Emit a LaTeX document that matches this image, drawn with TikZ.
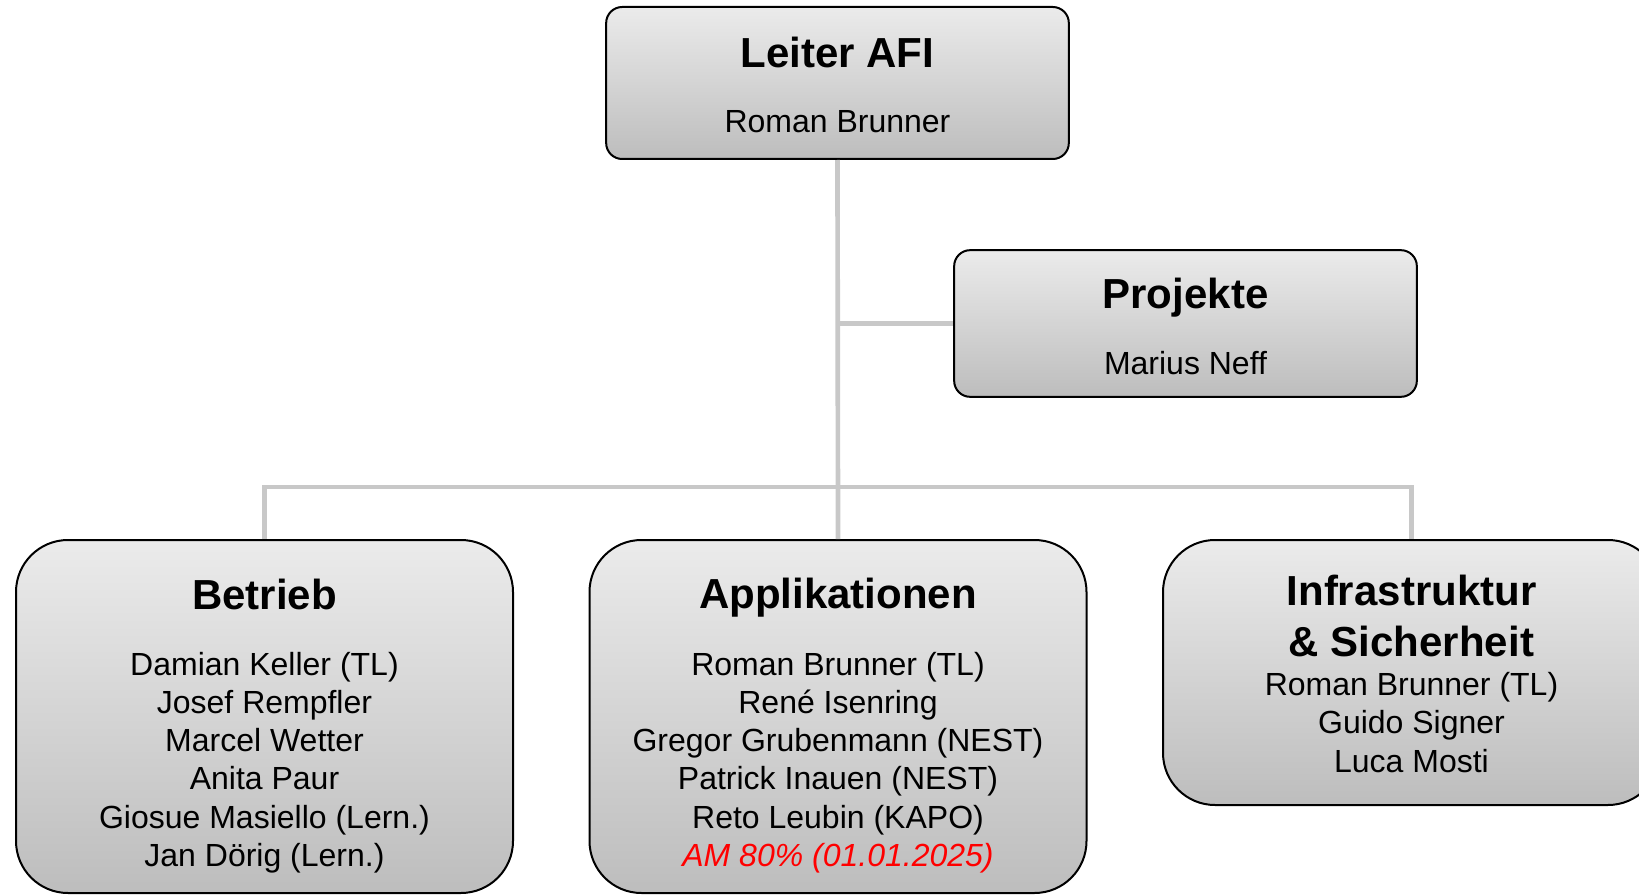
\documentclass[tikz,border=0pt]{standalone}
\usepackage{fontspec}
\setmainfont{Liberation Sans}
\definecolor{boxtop}{HTML}{EBEBEB}
\definecolor{boxbottom}{HTML}{BDBDBD}
\definecolor{linkgray}{HTML}{C8C8C8}
\definecolor{notered}{HTML}{FF0000}
\tikzset{
  unitbox/.style={draw=black, line width=1.5pt, top color=boxtop, bottom color=boxbottom,
    rounded corners=12pt, minimum width=347pt, inner sep=0pt},
  teambox/.style={unitbox, rounded corners=39pt, minimum width=372.75pt},
  headtext/.style={font=\fontsize{31.5}{38.25}\selectfont\bfseries, align=center, inner sep=0pt},
  nametext/.style={font=\fontsize{24}{28.65}\selectfont, align=center, inner sep=0pt},
  link/.style={draw=linkgray, line width=3.5pt},
}
\begin{document}
\begin{tikzpicture}[x=0.75pt, y=-0.75pt]
\useasboundingbox (0,0) rectangle (1639,895);
\clip (0,0) rectangle (1639,895);
% connectors
\coordinate (bus) at (838,487);
\node[unitbox, minimum height=114pt] (leiter) at (837.5,83) {};
\node[unitbox, minimum height=110pt] (projekte) at (1185.5,323.5) {};
\node[teambox, minimum height=264.75pt] (betrieb) at (264.5,716.5) {};
\node[teambox, minimum height=264.75pt] (applik) at (838,716.5) {};
\node[teambox, minimum height=198.75pt] (infra) at (1411.5,672.5) {};
\draw[link] (leiter.south) -- (applik.north);
\draw[link] (leiter.south |- projekte.west) -- (projekte.west);
\draw[link] (betrieb.north) |- (bus) -| (infra.north);
% texts
\node[headtext] (leiterhead) at (837.5,52) {Leiter AFI};
\node[nametext] (leitername) at (837.5,122) {Roman Brunner};
\node[headtext] (projektehead) at (1185.5,298) {Projekte};
\node[nametext] (projektename) at (1185.5,363) {Marius Neff};
\node[headtext] (betriebhead) at (264.5,594) {Betrieb};
\node[nametext] (betriebnames) at (264.5,762.5) {Damian Keller (TL)\\Josef Rempfler\\Marcel Wetter\\Anita Paur\\Giosue Masiello (Lern.)\\Jan Dörig (Lern.)};
\node[headtext] (applikhead) at (838,597.5) {Applikationen};
\node[nametext] (appliknames) at (838,762.5) {Roman Brunner (TL)\\René Isenring\\Gregor Grubenmann (NEST)\\Patrick Inauen (NEST)\\Reto Leubin (KAPO)\\\textcolor{notered}{\itshape AM 80\% (01.01.2025)}};
\node[headtext] (infrahead) at (1411.5,615.5) {Infrastruktur\\\& Sicherheit};
\node[nametext] (infranames) at (1411.5,722.5) {Roman Brunner (TL)\\Guido Signer\\Luca Mosti};
\end{tikzpicture}
\end{document}
